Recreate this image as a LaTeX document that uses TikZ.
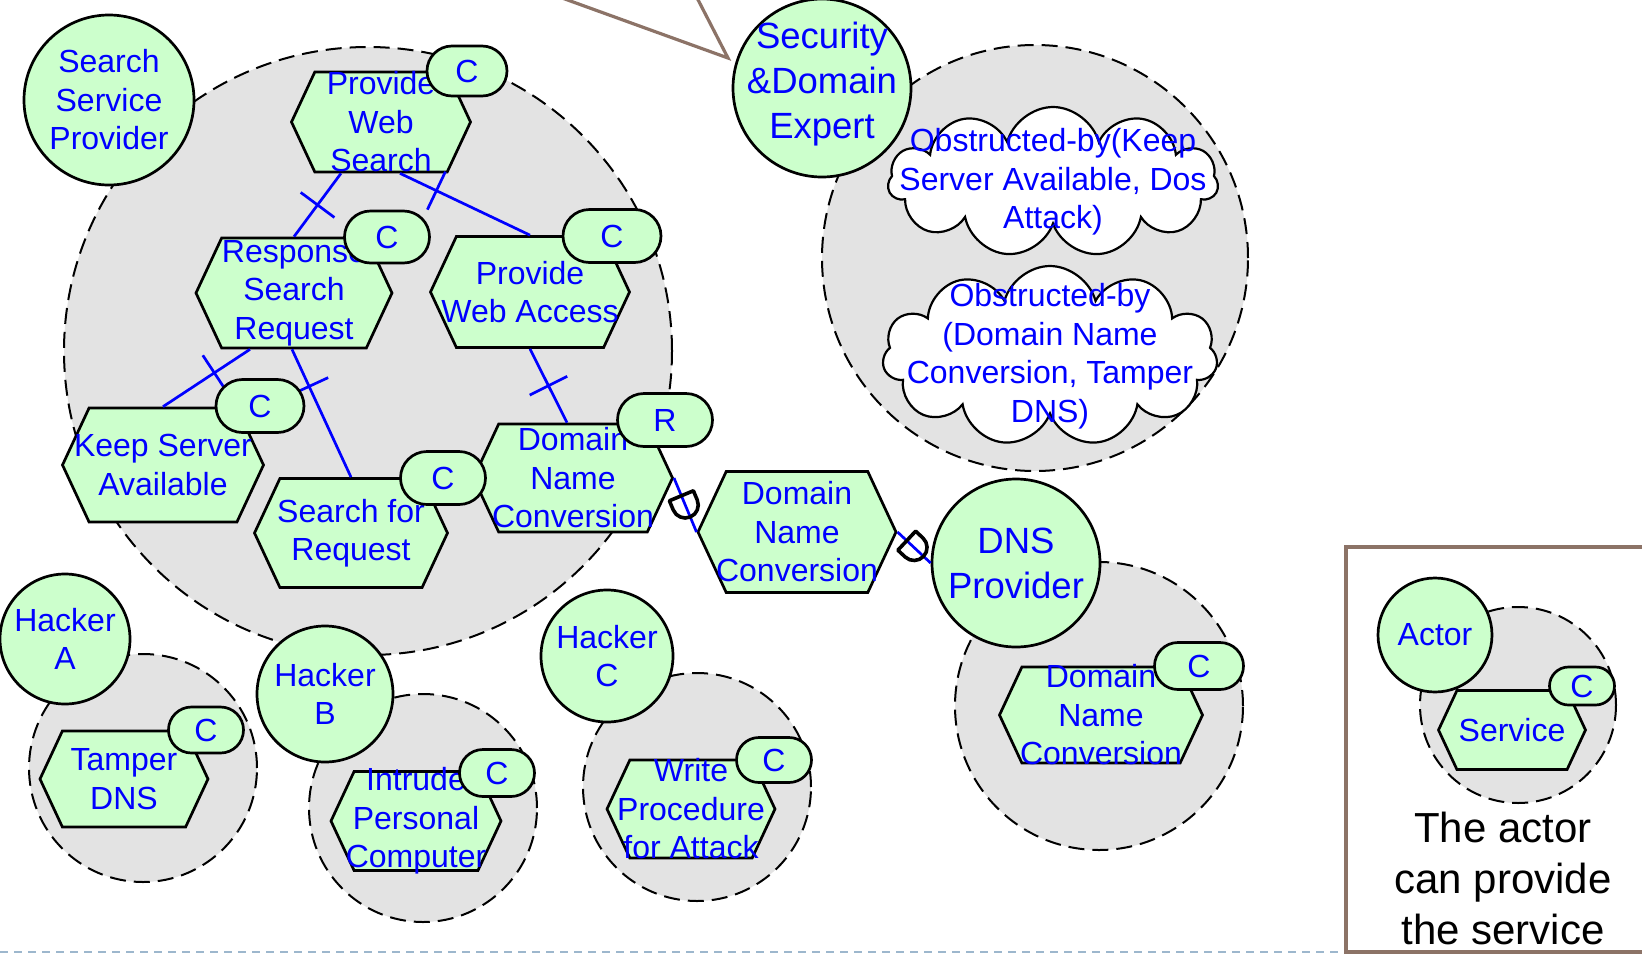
\documentclass[tikz,border=0pt]{standalone}
\usepackage{fontspec}
\setmainfont{Liberation Sans}
\usetikzlibrary{shapes.symbols,shapes.misc,decorations.markings,calc}

\definecolor{istargreen}{HTML}{CCFFCC}
\definecolor{istarblue}{HTML}{0000FF}
\definecolor{boundgray}{HTML}{E3E3E3}
\definecolor{notebrown}{HTML}{8C7367}
\definecolor{rulegray}{HTML}{9DB7CD}

\tikzset{
  txt/.style={text=istarblue, align=center, font=\fontsize{32}{38.5}\selectfont},
  bigtxt/.style={text=istarblue, align=center, font=\fontsize{36.5}{45}\selectfont},
  boundary/.style={circle, draw=black, dash pattern=on 16pt off 8pt, line width=2pt,
    fill=boundgray, minimum size=#1, inner sep=0pt},
  actor/.style={circle, draw=black, line width=2.7pt, fill=istargreen, minimum size=#1, inner sep=0pt},
  service/.style={signal, signal to=east and west, signal pointer angle=130, draw=black,
    line width=2.7pt, fill=istargreen, inner sep=0pt},
  tag/.style={rounded rectangle, draw=black, line width=2.7pt, fill=istargreen, inner sep=0pt,
    text=istarblue, font=\fontsize{32}{38.5}\selectfont},
  obstacle/.style={cloud, cloud puffs=11, cloud ignores aspect, draw=black, line width=2.2pt,
    fill=white, inner sep=0pt},
  decomp/.style={draw=istarblue, line width=2.7pt, postaction={decorate, decoration={markings,
    mark=at position #1 with {\draw[istarblue, line width=2.7pt] (0,-21) -- (0,21);}}}},
  depend/.style={draw=istarblue, line width=2.7pt, postaction={decorate, decoration={markings,
    mark=at position #1 with {\draw[black, line width=3.6pt, line join=round] (-10,-13) -- (0,-13) arc (-90:90:13) -- (-10,13) -- cycle;}}}}
}

\begin{document}
\begin{tikzpicture}[x=1pt, y=-1pt]
\useasboundingbox (0,0) rectangle (1642,954);
\clip (0,0) rectangle (1642,954);

% note pointer, slide rule, legend frame
\draw[notebrown, line width=3.2pt] (540,-10) -- (728,58) -- (693,-10);
\draw[rulegray, line width=2.5pt, dash pattern=on 8pt off 6pt] (0,952) -- (1346,952);
\draw[notebrown, line width=3.2pt] (1346,547) rectangle (1700,952);

% boundaries
\node[boundary=608] (sspb) at (368,351) {};
\node[boundary=426] (sdeb) at (1035,258) {};
\node[boundary=288] (dnsb) at (1099,706) {};
\node[boundary=228] (hab) at (143,768) {};
\node[boundary=228] (hbb) at (423,808) {};
\node[boundary=228] (hcb) at (697,787) {};
\node[boundary=196] (actb) at (1518,705) {};

% services
\node[service, minimum width=179, minimum height=100, label={[txt]center:{Provide\\Web\\Search}}] (pws) at (381,122) {};
\node[service, minimum width=196, minimum height=110, label={[txt]center:{Response\\Search\\Request}}] (rsr) at (294,293) {};
\node[service, minimum width=199, minimum height=111, label={[txt]center:{Provide\\Web Access}}] (pwa) at (530,292) {};
\node[service, minimum width=201, minimum height=114, label={[txt]center:{Keep Server\\Available}}] (ksa) at (163,465) {};
\node[service, minimum width=193, minimum height=109, label={[txt]center:{Search for\\Request}}] (sfr) at (351,533) {};
\node[service, minimum width=199, minimum height=108, label={[txt]center:{Domain\\Name\\Conversion}}] (dnc) at (573,478) {};
\node[service, minimum width=198, minimum height=121, label={[txt]center:{Domain\\Name\\Conversion}}] (dncdep) at (797,532) {};
\node[service, minimum width=203, minimum height=96, label={[txt]center:{Domain\\Name\\Conversion}}] (dncdns) at (1101,715) {};
\node[service, minimum width=168, minimum height=96, label={[txt]center:{Tamper\\DNS}}] (tdns) at (124,779) {};
\node[service, minimum width=170, minimum height=99, label={[txt]center:{Intrude\\Personal\\Computer}}] (ipc) at (416,821) {};
\node[service, minimum width=168, minimum height=98, label={[txt]center:{Write\\Procedure\\for Attack}}] (wpa) at (691,809) {};
\node[service, minimum width=147, minimum height=79, label={[txt]center:{Service}}] (svc) at (1512,730) {};

% actors
\node[actor=170, label={[txt]center:{Search\\Service\\Provider}}] (ssp) at (109,100) {};
\node[actor=178, label={[bigtxt, yshift=4pt]center:{Security\\\&Domain\\Expert}}] (sde) at (822,88) {};
\node[actor=168, label={[bigtxt]center:{DNS\\Provider}}] (dns) at (1016,563) {};
\node[actor=130, label={[txt]center:{Hacker\\A}}] (ha) at (65,639) {};
\node[actor=136, label={[txt]center:{Hacker\\B}}] (hb) at (325,694) {};
\node[actor=132, label={[txt]center:{Hacker\\C}}] (hc) at (607,656) {};
\node[actor=114, label={[txt]center:{Actor}}] (act) at (1435,635) {};

% decompositions
\draw[decomp=0.5] ($(pws.south)+(-40,0)$) -- (rsr.north);
\draw[decomp=0.28] ($(pws.south)+(19,0)$) -- (pwa.north);
\draw[decomp=0.41] ($(rsr.south)+(-44,0)$) -- (ksa.north);
\draw[decomp=0.29] ($(rsr.south)+(-2,0)$) -- (sfr.north);
\draw[decomp=0.5] (pwa.south) -- ($(dnc.north)+(-6,0)$);

% dependencies
\draw[depend=0.5] (dnc.east) -- (dncdep.west);
\draw[depend=0.5] (dncdep.east) -- (dns.west);

% contribution tags
\node[tag, minimum width=80, minimum height=50] (pwsc) at (467,71) {C};
\node[tag, minimum width=85, minimum height=52] (rsrc) at (387,237) {C};
\node[tag, minimum width=98, minimum height=53] (pwac) at (612,236) {C};
\node[tag, minimum width=88, minimum height=53] (ksac) at (260,406) {C};
\node[tag, minimum width=85, minimum height=53] (sfrc) at (443,478) {C};
\node[tag, minimum width=95, minimum height=53] (dncr) at (665,420) {R};
\node[tag, minimum width=89, minimum height=47] (dncdnsc) at (1199,666) {C};
\node[tag, minimum width=75, minimum height=46] (tdnsc) at (206,730) {C};
\node[tag, minimum width=75, minimum height=47] (ipcc) at (497,773) {C};
\node[tag, minimum width=75, minimum height=45] (wpac) at (774,760) {C};
\node[tag, minimum width=65, minimum height=38] (svcc) at (1582,686) {C};

% obstacles
\node[obstacle, minimum width=330, minimum height=150,
  label={[txt]center:{Obstructed-by(Keep\\Server Available, Dos\\Attack)}}] (obs1) at (1053,182) {};
\node[obstacle, minimum width=335, minimum height=180,
  label={[txt]center:{Obstructed-by\\(Domain Name\\Conversion, Tamper\\DNS)}}] (obs2) at (1050,356) {};

% legend
\node[align=center, font=\fontsize{42}{51}\selectfont] (legtext) at (1503,878) {The actor\\can provide\\the service};
\end{tikzpicture}
\end{document}
